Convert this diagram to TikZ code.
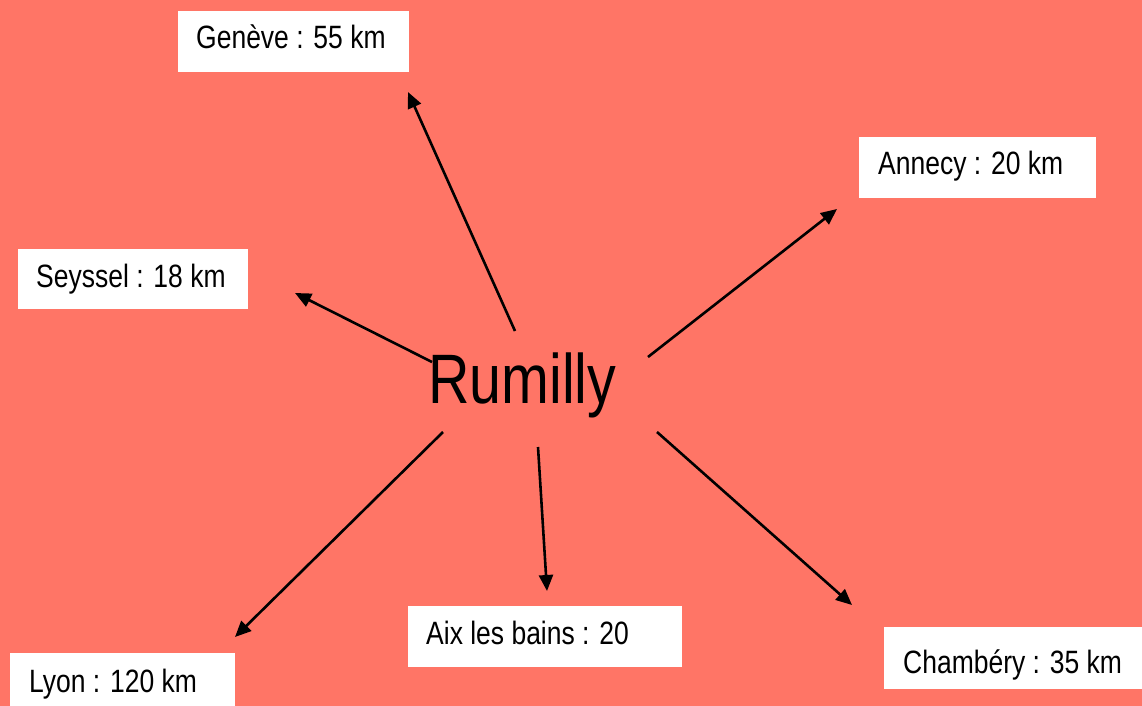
\documentclass[tikz,border=0pt]{standalone}
\usepackage{fontspec}
\setmainfont{Liberation Sans}[FakeStretch=0.82]
\usetikzlibrary{arrows.meta}
\definecolor{bg}{HTML}{FF7566}
\tikzset{
  box/.style={fill=white, draw=none, anchor=north west, inner sep=0pt},
  lbl/.style={anchor=base west, inner sep=0pt, font=\fontsize{32.3}{36}\selectfont, text=black},
  arr/.style={line width=2.6pt, -{Triangle[length=16pt,width=14pt]}},
}
\begin{document}
\begin{tikzpicture}[x=1pt,y=-1pt]
\clip (0,0) rectangle (1142,706);
\fill[bg] (0,0) rectangle (1142,706);
% boxes
\node[box, minimum width=231pt, minimum height=61pt] (geneve) at (178,11) {};
\node[box, minimum width=237pt, minimum height=61pt] (annecy) at (859,137) {};
\node[box, minimum width=230pt, minimum height=60pt] (seyssel) at (18,249) {};
\node[box, minimum width=274pt, minimum height=61pt] (aix) at (408,606) {};
\node[box, minimum width=225pt, minimum height=62pt] (lyon) at (10,653) {};
\node[box, minimum width=260pt, minimum height=62pt] (chambery) at (884,627) {};
% labels
\node[lbl] (tgeneve) at (196,49) {Genève : 55 km};
\node[lbl] (tannecy) at (878,174) {Annecy : 20 km};
\node[lbl] (tseyssel) at (36,287) {Seyssel : 18 km};
\node[lbl] (taix) at (426,644) {Aix les bains : 20};
\node[lbl] (tlyon) at (29,692) {Lyon : 120 km};
\node[lbl] (tchambery) at (903,673) {Chambéry : 35 km};
% centre
\node[anchor=base west, inner sep=0pt, font=\fontsize{70}{78}\selectfont] (rumilly) at (428,403) {Rumilly};
% arrow ends
\coordinate (sG) at (515,331); \coordinate (eG) at (408,92);
\coordinate (sA) at (648,357); \coordinate (eA) at (837,209);
\coordinate (sS) at (432,362); \coordinate (eS) at (295,293);
\coordinate (sL) at (443,432); \coordinate (eL) at (235,637);
\coordinate (sX) at (538,447); \coordinate (eX) at (547,591);
\coordinate (sC) at (657,432); \coordinate (eC) at (852,605);
\draw[arr] (sG) -- (eG);
\draw[arr] (sA) -- (eA);
\draw[arr] (sS) -- (eS);
\draw[arr] (sL) -- (eL);
\draw[arr] (sX) -- (eX);
\draw[arr] (sC) -- (eC);
\end{tikzpicture}
\end{document}
